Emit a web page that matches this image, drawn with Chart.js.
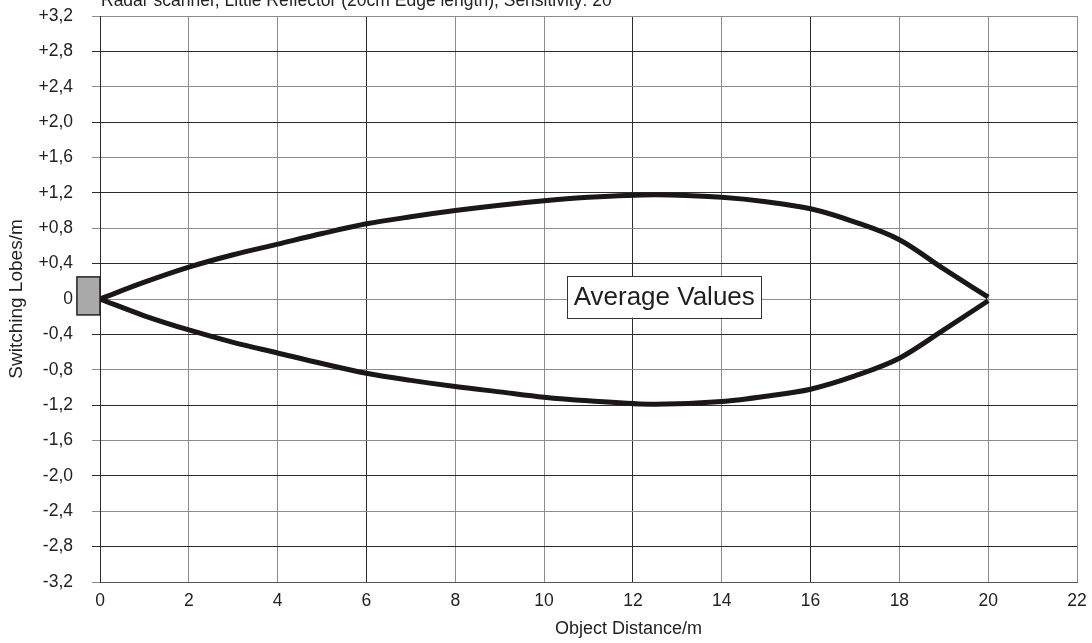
<!DOCTYPE html>
<html>
<head>
<meta charset="utf-8">
<title>Radar scanner switching lobes</title>
<script src="https://cdn.jsdelivr.net/npm/chart.js@4.4.1/dist/chart.umd.min.js"></script>
<style>
  html, body { margin: 0; padding: 0; background: #fff; }
  #wrap { position: relative; width: 1092px; height: 643px; }
</style>
</head>
<body>
<div id="wrap"><canvas id="lobeChart"></canvas></div>
<script>
// texts
const chartTitle = 'Radar scanner, Little Reflector (20cm Edge length), Sensitivity: 20';
const xAxisTitle = 'Object Distance/m';
const yAxisTitle = 'Switching Lobes/m';
const noteText = 'Average Values';

// measured lobe outline (m)
const distances = [0, 1, 2, 3, 4, 5, 6, 7, 8, 9, 10, 11, 12.5, 14, 15, 16, 17, 18, 19, 20];
const upperLobe = [0, 0.19, 0.36, 0.50, 0.62, 0.74, 0.85, 0.93, 1.00, 1.06, 1.11, 1.15, 1.18, 1.15, 1.10, 1.02, 0.87, 0.67, 0.34, 0.02];
const lowerLobe = [0, -0.19, -0.35, -0.49, -0.61, -0.73, -0.84, -0.92, -0.99, -1.05, -1.11, -1.15, -1.19, -1.16, -1.10, -1.02, -0.87, -0.67, -0.35, -0.02];

// axis ticks
const xTickValues = [0, 2, 4, 6, 8, 10, 12, 14, 16, 18, 20, 22];
const xTickLabels = ['0', '2', '4', '6', '8', '10', '12', '14', '16', '18', '20', '22'];
const yTickValues = [-3.2, -2.8, -2.4, -2.0, -1.6, -1.2, -0.8, -0.4, 0, 0.4, 0.8, 1.2, 1.6, 2.0, 2.4, 2.8, 3.2];
const yTickLabels = ['-3,2', '-2,8', '-2,4', '-2,0', '-1,6', '-1,2', '-0,8', '-0,4', '0',
                     '+0,4', '+0,8', '+1,2', '+1,6', '+2,0', '+2,4', '+2,8', '+3,2'];

// sensor block and note box, in data units
const sensorBox = { x0: -0.52, x1: 0, y0: -0.18, y1: 0.25 };
const noteBox = { x0: 10.52, x1: 14.89, y0: -0.21, y1: 0.26 };

const FONT = 'Arial, "Liberation Sans", sans-serif';
const DARK = '#2b2b2b';
const GRAY = '#8c8c8c';
const xGridColors = [DARK, GRAY, GRAY, DARK, GRAY, GRAY, DARK, GRAY, DARK, GRAY, GRAY, GRAY];

const overlayPlugin = {
  id: 'overlay',
  beforeDatasetsDraw(chart) {
    const { ctx, scales: { x, y } } = chart;
    const l = x.getPixelForValue(sensorBox.x0);
    const r = x.getPixelForValue(sensorBox.x1);
    const t = y.getPixelForValue(sensorBox.y1);
    const b = y.getPixelForValue(sensorBox.y0);
    ctx.save();
    ctx.fillStyle = '#a9a9a9';
    ctx.strokeStyle = '#222';
    ctx.lineWidth = 1.5;
    ctx.fillRect(l, t, r - l, b - t);
    ctx.strokeRect(l, t, r - l, b - t);
    ctx.restore();
  },
  afterDatasetsDraw(chart) {
    const { ctx, chartArea, scales: { x, y } } = chart;
    ctx.save();
    // note box
    const l = x.getPixelForValue(noteBox.x0);
    const r = x.getPixelForValue(noteBox.x1);
    const t = y.getPixelForValue(noteBox.y1);
    const b = y.getPixelForValue(noteBox.y0);
    ctx.fillStyle = '#fff';
    ctx.fillRect(l, t, r - l, b - t);
    ctx.strokeStyle = '#333';
    ctx.lineWidth = 1;
    ctx.strokeRect(Math.round(l) + 0.5, Math.round(t) + 0.5, Math.round(r - l), Math.round(b - t));
    ctx.fillStyle = '#1e1e1e';
    ctx.font = '26px ' + FONT;
    ctx.textAlign = 'center';
    ctx.textBaseline = 'middle';
    ctx.fillText(noteText, (l + r) / 2, (t + b) / 2 + 1);

    // chart title, partly cut off at the top edge
    ctx.font = '17.5px ' + FONT;
    ctx.textAlign = 'left';
    ctx.textBaseline = 'alphabetic';
    ctx.fillStyle = '#222';
    ctx.fillText(chartTitle, chartArea.left + 1, 6);

    // x axis title
    ctx.font = '18px ' + FONT;
    ctx.textAlign = 'center';
    ctx.fillText(xAxisTitle, (chartArea.left + chartArea.right) / 2 + 40, 634);
    ctx.restore();
  }
};

const lineStyle = {
  showLine: true,
  borderColor: '#1c1717',
  borderWidth: 5,
  pointRadius: 0,
  cubicInterpolationMode: 'monotone',
  fill: false
};

new Chart(document.getElementById('lobeChart'), {
  type: 'scatter',
  data: {
    datasets: [
      Object.assign({ label: 'upper', data: distances.map((d, i) => ({ x: d, y: upperLobe[i] })) }, lineStyle),
      Object.assign({ label: 'lower', data: distances.map((d, i) => ({ x: d, y: lowerLobe[i] })) }, lineStyle)
    ]
  },
  options: {
    responsive: true,
    maintainAspectRatio: false,
    animation: false,
    layout: { padding: { top: 16, right: 15, bottom: 0, left: 0 } },
    plugins: {
      legend: { display: false },
      tooltip: { enabled: false }
    },
    scales: {
      x: {
        type: 'linear',
        min: 0,
        max: 22,
        afterBuildTicks: scale => { scale.ticks = xTickValues.map(v => ({ value: v })); },
        afterFit: scale => {
          scale.height = 61;
          scale.paddingLeft = 0;
          scale.paddingRight = 0;
        },
        grid: {
          color: ctx => xGridColors[ctx.index] || GRAY,
          lineWidth: 1,
          drawTicks: false
        },
        border: { display: true, color: '#555', width: 1 },
        ticks: {
          padding: 9,
          color: '#222',
          font: { family: FONT, size: 17.5 },
          callback: (v, i) => xTickLabels[i]
        }
      },
      y: {
        type: 'linear',
        min: -3.2,
        max: 3.2,
        afterBuildTicks: scale => { scale.ticks = yTickValues.map(v => ({ value: v })); },
        afterFit: scale => {
          scale.width = 100;
          scale.paddingTop = 0;
          scale.paddingBottom = 0;
        },
        grid: {
          color: ctx => (ctx.index % 2 ? DARK : GRAY),
          tickColor: ctx => (ctx.index % 2 ? DARK : GRAY),
          lineWidth: 1,
          drawTicks: true,
          tickLength: 8
        },
        border: { display: true, color: DARK, width: 1 },
        ticks: {
          padding: 19,
          color: '#222',
          font: { family: FONT, size: 17.5 },
          callback: (v, i) => yTickLabels[i]
        },
        title: {
          display: true,
          text: yAxisTitle,
          color: '#222',
          font: { family: FONT, size: 19 },
          padding: { top: 5, bottom: 0 }
        }
      }
    }
  },
  plugins: [overlayPlugin]
});
</script>
</body>
</html>
